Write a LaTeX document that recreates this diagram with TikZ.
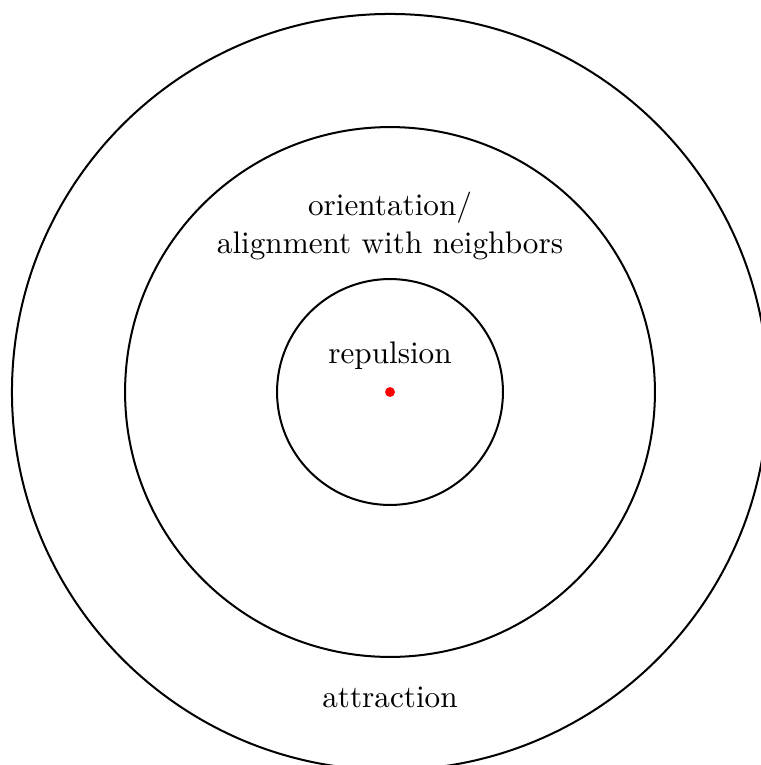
\documentclass[tikz,border=0pt]{standalone}
\begin{document}
\begin{tikzpicture}[x=0.3333pt,y=-0.3333pt,
  zone/.style={draw=black,line width=0.67pt,circle,inner sep=0pt,fill=none},
  lab/.style={inner sep=0pt,align=center,font=\fontsize{10.4}{12.6}\selectfont}]
\useasboundingbox (0,0) rectangle (760,765);
\coordinate (c) at (390,392);
\node[zone,minimum size=252pt] (outer) at (c) {};
\node[zone,minimum size=176.6pt] (middle) at (c) {};
\node[zone,minimum size=75.3pt] (inner) at (c) {};
\node[circle,fill=red,inner sep=0pt,minimum size=3.3pt] (dot) at (c) {};
\node[lab] (rep) at (390,356) {repulsion};
\node[lab] (ori) at (390,226) {orientation/\\alignment with neighbors};
\node[lab] (att) at (390,697) {attraction};
\end{tikzpicture}
\end{document}
